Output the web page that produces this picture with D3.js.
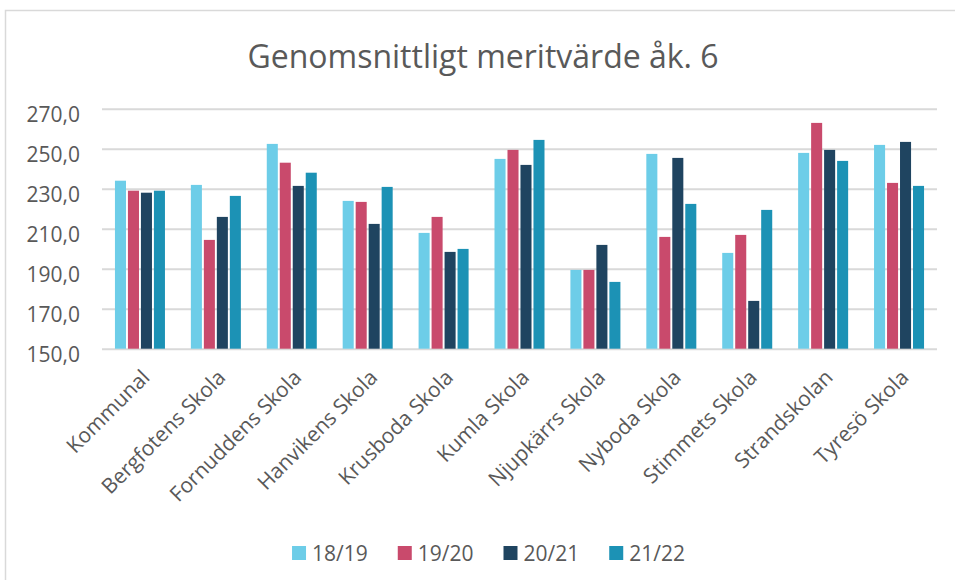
<!DOCTYPE html>
<html>
<head>
<meta charset="utf-8">
<script src="https://cdn.jsdelivr.net/npm/d3@7"></script>
<style>
  body { margin: 0; background: #fff; }
  text { font-family: "Open Sans", sans-serif; fill: #595959; }
  .grid line { stroke: #d9d9d9; stroke-width: 2; }
  .grid .domain { display: none; }
</style>
</head>
<body>
<svg width="955" height="580"></svg>
<script>
var categories = ["Kommunal", "Bergfotens Skola", "Fornuddens Skola", "Hanvikens Skola",
  "Krusboda Skola", "Kumla Skola", "Njupkärrs Skola", "Nyboda Skola",
  "Stimmets Skola", "Strandskolan", "Tyresö Skola"];
var seriesNames = ["18/19", "19/20", "20/21", "21/22"];
var v1819 = [234.0, 231.9, 252.4, 223.9, 207.9, 244.9, 189.4, 247.4, 197.9, 247.9, 251.9];
var v1920 = [229.0, 204.4, 243.0, 223.4, 215.9, 249.4, 189.4, 205.9, 206.9, 262.9, 232.9];
var v2021 = [228.0, 215.9, 231.4, 212.4, 198.4, 241.9, 201.9, 245.4, 173.9, 249.4, 253.4];
var v2122 = [229.0, 226.4, 238.0, 230.9, 199.9, 254.4, 183.4, 222.4, 219.4, 243.9, 231.4];
var yTicks = [150, 170, 190, 210, 230, 250, 270];
var colors = ["#6dcde8", "#c94a6c", "#1f4460", "#1c92b5"];

var seriesValues = [v1819, v1920, v2021, v2122];

var svg = d3.select("svg"),
    plotLeft = 102, plotRight = 937, plotTop = 108.7, plotBottom = 348.7;

// chart frame
svg.append("path")
    .attr("d", "M5.5,585V10.5H960")
    .attr("fill", "none")
    .attr("stroke", "#d9d9d9")
    .attr("stroke-width", 1.5);

svg.append("text")
    .attr("x", 483)
    .attr("y", 68)
    .attr("text-anchor", "middle")
    .style("font-size", "32px")
    .text("Genomsnittligt meritvärde åk. 6");

var x0 = d3.scaleBand().domain(categories).range([plotLeft, plotRight])
    .paddingInner(0.29).paddingOuter(0.145);
var x1 = d3.scaleBand().domain(seriesNames).range([0, x0.bandwidth()]).padding(0.15);
var y = d3.scaleLinear().domain([150, 270]).range([plotBottom, plotTop]);
var z = d3.scaleOrdinal().domain(seriesNames).range(colors);

// Gridlines
svg.append("g")
    .attr("class", "grid")
    .attr("transform", "translate(" + plotLeft + ",0)")
    .call(d3.axisLeft(y).tickValues(yTicks).tickSize(-(plotRight - plotLeft)).tickFormat(""));

// Y labels
var yAxis = svg.append("g")
    .attr("transform", "translate(" + plotLeft + ",0)")
    .call(d3.axisLeft(y).tickValues(yTicks).tickSize(0).tickPadding(22)
      .tickFormat(function(d) { return d3.format(".1f")(d).replace(".", ","); }));
yAxis.select(".domain").remove();
yAxis.selectAll("text")
    .attr("dy", "0.6em")
    .style("font-size", "21px")
    .style("font-family", "'Open Sans', sans-serif")
    .attr("fill", "#595959");

// Bars
var rows = categories.map(function(c, i) {
  return { cat: c, values: seriesNames.map(function(s, j) { return { key: s, value: seriesValues[j][i] }; }) };
});

var group = svg.selectAll(".group")
    .data(rows)
    .enter().append("g")
    .attr("class", "group")
    .attr("transform", function(d) { return "translate(" + x0(d.cat) + ",0)"; });

group.selectAll("rect")
    .data(function(d) { return d.values; })
    .enter().append("rect")
    .attr("x", function(d) { return x1(d.key); })
    .attr("y", function(d) { return y(d.value); })
    .attr("width", x1.bandwidth())
    .attr("height", function(d) { return y(150) - y(d.value); })
    .attr("fill", function(d) { return z(d.key); });

// X labels
var xAxis = svg.append("g")
    .attr("transform", "translate(0," + plotBottom + ")")
    .call(d3.axisBottom(x0).tickSize(0));
xAxis.select(".domain").remove();
xAxis.selectAll("text")
    .attr("x", 0).attr("y", 0).attr("dy", 0)
    .attr("transform", "translate(11,30) rotate(-45)")
    .attr("text-anchor", "end")
    .style("font-size", "21px")
    .style("font-family", "'Open Sans', sans-serif")
    .attr("fill", "#595959");

// Legend
var legend = svg.append("g");
var lx = 0;
seriesNames.forEach(function(s) {
  var item = legend.append("g").attr("transform", "translate(" + lx + ",0)");
  item.append("rect").attr("x", 0).attr("y", 546).attr("width", 14).attr("height", 14).attr("fill", z(s));
  var t = item.append("text").attr("x", 20).attr("y", 561).style("font-size", "21px").text(s);
  lx += 20 + t.node().getComputedTextLength() + 30;
});
legend.attr("transform", "translate(" + (488.5 - (lx - 30) / 2) + ",0)");
</script>
</body>
</html>
